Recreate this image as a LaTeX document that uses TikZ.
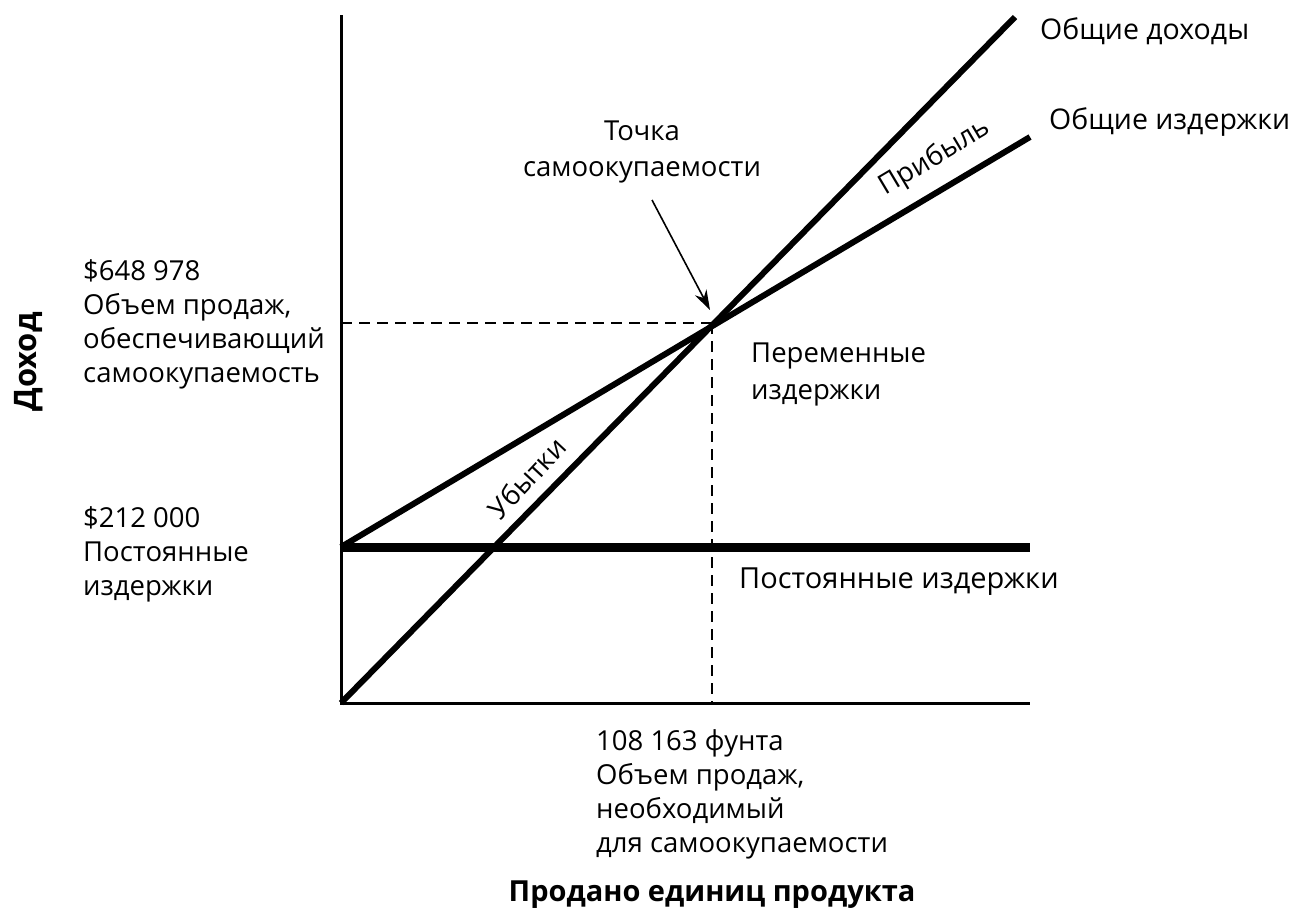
\documentclass[tikz,border=0pt]{standalone}
\usepackage{fontspec}
\setmainfont{Open Sans}
\usetikzlibrary{arrows.meta}
\begin{document}
\begin{tikzpicture}[x=1pt,y=-1pt,
  lbl/.style={font=\fontsize{27.5}{34}\selectfont, inner sep=0pt, align=left},
  widelbl/.style={lbl, font=\fontsize{27.5}{36.5}\selectfont},
  axlbl/.style={font=\fontsize{29}{34}\selectfont\bfseries, inner sep=0pt},
  axis/.style={line width=3pt},
  curve/.style={line width=6pt},
  fixedline/.style={line width=9pt},
  guide/.style={line width=2.2pt, dash pattern=on 11pt off 7pt},
  pointer/.style={line width=1.6pt, -{Stealth[length=20pt,width=13pt]}}
]
\useasboundingbox (0,0) rectangle (1307,914);
% axes
\coordinate (O) at (341,703);
\coordinate (ytop) at (341,15);
\coordinate (xend) at (1030,703);
\draw[axis] (ytop) -- (O) -- (xend);
% fixed costs
\coordinate (fc0) at (341,547);
\coordinate (fc1) at (1030,547);
\draw[fixedline] (fc0) -- (fc1);
% total revenue and total costs
\coordinate (tr1) at (1015,17);
\coordinate (tc1) at (1030,137);
\draw[curve] (O) -- (tr1);
\draw[curve] (fc0) -- (tc1);
% break-even point and guides
\coordinate (be) at (712,323);
\coordinate (beY) at (341,323);
\coordinate (beX) at (712,703);
\draw[guide] (beY) -- (be);
\draw[guide] (be) -- (beX);
% labels
\node[lbl, anchor=west, font=\fontsize{28.5}{34}\selectfont] (trl) at (1040,31) {Общие доходы};
\node[lbl, anchor=west, font=\fontsize{28.5}{34}\selectfont] (tcl) at (1049,122) {Общие издержки};
\node[widelbl, align=center] (bel) at (642,152) {Точка\\самоокупаемости};
\coordinate (arrs) at (652,200);
\coordinate (arre) at (710,310);
\draw[pointer] (arrs) -- (arre);
\node[lbl, rotate=30.8] (profit) at (935,158) {Прибыль};
\node[lbl, rotate=47] (loss) at (527,478) {Убытки};
\node[lbl, anchor=north west] (sales) at (83,259) {\$648 978\\Объем продаж,\\обеспечивающий\\самоокупаемость};
\node[lbl, anchor=north west] (fixed) at (83,506) {\$212 000\\Постоянные\\издержки};
\node[widelbl, anchor=north west] (var) at (751,343) {Переменные\\издержки};
\node[lbl, anchor=west, font=\fontsize{29}{34}\selectfont] (fcl) at (739,582) {Постоянные издержки};
\node[lbl, anchor=north west] (units) at (596,729) {108 163 фунта\\Объем продаж,\\необходимый\\для самоокупаемости};
\node[axlbl] (xlab) at (712,895) {Продано единиц продукта};
\node[axlbl, rotate=90, font=\fontsize{31}{34}\selectfont\bfseries] (ylab) at (29,362) {Доход};
\end{tikzpicture}
\end{document}
